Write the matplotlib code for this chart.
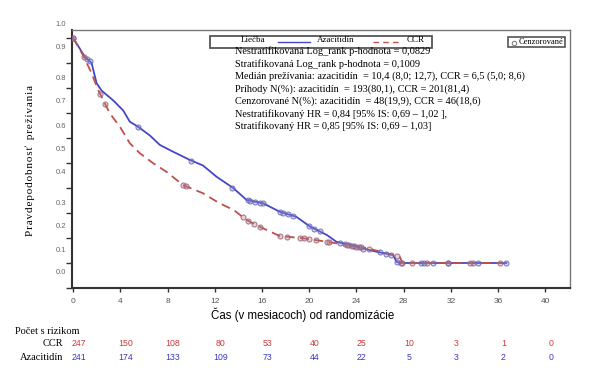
import numpy as np
import matplotlib
matplotlib.use("Agg")
import matplotlib.pyplot as plt
from matplotlib.patches import Rectangle
from matplotlib.lines import Line2D
import matplotlib.transforms as mtransforms

# ---- data ----
aza_t = [0, 0.99, 1.56, 1.98, 2.4, 3.4, 4.24, 4.8, 5.5, 6.5, 7.35, 8.47, 9.9, 11.0,
         12.15, 13.56, 14.7, 16.1, 17.5, 18.9, 20.1, 21.5, 22.3, 24.0, 25.7, 27.1,
         27.4, 27.7, 36.7]
aza_s = [1.0, 0.925, 0.90, 0.82, 0.79, 0.75, 0.71, 0.665, 0.645, 0.61, 0.572, 0.545,
         0.512, 0.49, 0.445, 0.40, 0.352, 0.339, 0.305, 0.285, 0.245, 0.212, 0.185,
         0.165, 0.145, 0.132, 0.105, 0.10, 0.10]
ccr_t = [0, 0.85, 1.56, 2.12, 2.54, 3.1, 3.96, 4.8, 5.65, 6.78, 7.9, 9.3, 11.0, 12.4,
         13.6, 14.7, 15.8, 17.5, 19.5, 21.5, 23.2, 24.9, 26.6, 27.7, 27.9, 36.2]
ccr_s = [1.0, 0.93, 0.859, 0.792, 0.752, 0.699, 0.645, 0.579, 0.539, 0.499, 0.465,
         0.412, 0.379, 0.339, 0.312, 0.272, 0.245, 0.208, 0.199, 0.185, 0.172, 0.159,
         0.139, 0.123, 0.10, 0.10]

aza_cens = [0.0, 1.2, 1.4, 5.5, 10.0, 13.5, 14.8, 15.0, 15.4, 15.8, 16.1, 17.5, 17.8,
            18.2, 18.6, 20.0, 20.4, 20.9, 22.6, 23.0, 23.4, 23.8, 24.2, 24.6, 26.0,
            26.5, 26.9, 27.4, 27.8, 29.5, 29.7, 30.5, 31.8, 33.9, 34.3, 36.7]
ccr_cens = [0.0, 0.9, 2.3, 2.7, 9.3, 9.6, 14.4, 14.8, 15.3, 15.8, 17.5, 18.1, 19.2,
            19.6, 20.0, 20.6, 21.5, 21.7, 23.2, 23.6, 24.0, 24.4, 25.1, 27.4, 27.9,
            28.7, 30.0, 31.8, 33.6, 36.2]

risk_times = [0, 4, 8, 12, 16, 20, 24, 28, 32, 36, 40]
risk_ccr = [247, 150, 108, 80, 53, 40, 25, 10, 3, 1, 0]
risk_aza = [241, 174, 133, 109, 73, 44, 22, 5, 3, 2, 0]

ytick_labels = ["1.0", "0.9", "0.8", "0.7", "0.6", "0.5", "0.4", "0.3", "0.2", "0.1", "0.0"]

stats_lines = [
    "Nestratifikovaná Log_rank p-hodnota = 0,0829",
    "Stratifikovaná Log_rank p-hodnota = 0,1009",
    "Medián prežívania: azacitidín  = 10,4 (8,0; 12,7), CCR = 6,5 (5,0; 8,6)",
    "Príhody N(%): azacitidín  = 193(80,1), CCR = 201(81,4)",
    "Cenzorované N(%): azacitidín  = 48(19,9), CCR = 46(18,6)",
    "Nestratifikovaný HR = 0,84 [95% IS: 0,69 – 1,02 ],",
    "Stratifikovaný HR = 0,85 [95% IS: 0,69 – 1,03]",
]

# ---- style ----
BLUE = "#4646c8"
RED = "#c0504d"
SERIF = ["Liberation Serif", "DejaVu Serif"]
SANS = ["Liberation Sans", "DejaVu Sans"]
W, H = 605, 384

fig = plt.figure(figsize=(W / 100, H / 100), dpi=100)
fig.patch.set_facecolor("white")
ax = fig.add_axes([72 / W, 1 - 288 / H, 498 / W, 258 / H])
ax.set_xlim(-0.1, 42.1)
ax.set_ylim(0, 1.032)

ax.plot(aza_t, aza_s, color=BLUE, lw=1.3, zorder=3)
ax.plot(ccr_t, ccr_s, color=RED, lw=1.3, ls=(0, (5, 3)), zorder=3)

ax.plot(aza_cens, np.interp(aza_cens, aza_t, aza_s), ls="none", marker="o", ms=3.6,
        mfc=(0.55, 0.55, 0.8, 0.35), mec=(0.4, 0.4, 0.72, 0.8), mew=0.8, zorder=4)
ax.plot(ccr_cens, np.interp(ccr_cens, ccr_t, ccr_s), ls="none", marker="o", ms=3.6,
        mfc=(0.75, 0.5, 0.55, 0.35), mec=(0.6, 0.38, 0.45, 0.8), mew=0.8, zorder=4)

# spines
for s in ["top", "right"]:
    ax.spines[s].set_color("#777777")
    ax.spines[s].set_linewidth(1.0)
for s in ["left", "bottom"]:
    ax.spines[s].set_color("#333333")
    ax.spines[s].set_linewidth(1.5)

# x ticks
ax.set_xticks(risk_times)
ax.set_xticklabels([str(t) for t in risk_times])
ax.tick_params(axis="x", direction="out", length=3, width=1, color="#333333",
               labelsize=6, labelcolor="#555555", pad=4)
for lab in ax.get_xticklabels():
    lab.set_family(SANS)

# y ticks: marks at 0.1 steps, labels drawn where they sit in the reference
ax.set_yticks(np.arange(0, 1.001, 0.1))
ax.set_yticklabels([])
ax.tick_params(axis="y", direction="out", length=4, width=1, color="#333333")
ylab_pos = [1.052, 0.962, 0.836, 0.746, 0.648, 0.554, 0.464, 0.338, 0.244, 0.150, 0.064]
ylab_tr = mtransforms.blended_transform_factory(fig.transFigure, ax.transData)
for lab, p in zip(ytick_labels, ylab_pos):
    fig.text(66 / W, p, lab, transform=ylab_tr, ha="right", va="center",
             fontsize=5.5, color="#666666", family=SANS)

# axis labels
ylabel = "\u200a".join("Pravdepodobnosť") + "  " + "\u200a".join("prežívania")
fig.text(30 / W, 1 - 161 / H, ylabel, rotation=90, ha="center", va="center",
         fontsize=8, family=SERIF)
fig.text(303 / W, 1 - 315 / H, "Čas (v mesiacoch) od randomizácie", ha="center",
         va="center", fontsize=8.3, family=SANS)

# legend box
fig.patches.append(Rectangle((210 / W, 1 - 47.5 / H), 222 / W, 12 / H,
                             transform=fig.transFigure, fill=False, ec="#555555",
                             lw=1.3))
fig.text(253 / W, 1 - 40.5 / H, "Liečba", ha="center", va="center", fontsize=6.5,
         family=SERIF)
fig.lines.append(Line2D([278 / W, 310 / W], [1 - 42 / H] * 2, transform=fig.transFigure,
                        color=BLUE, lw=1.0))
fig.text(336 / W, 1 - 40.5 / H, "Azacitidín", ha="center", va="center", fontsize=6.5,
         family=SERIF)
fig.lines.append(Line2D([373 / W, 400 / W], [1 - 42 / H] * 2, transform=fig.transFigure,
                        color=RED, lw=1.0, ls=(0, (4, 3))))
fig.text(416 / W, 1 - 40.5 / H, "CCR", ha="center", va="center", fontsize=6.5,
         family=SERIF)

fig.patches.append(Rectangle((508 / W, 1 - 47 / H), 57 / W, 10.5 / H,
                             transform=fig.transFigure, fill=False, ec="#555555",
                             lw=1.2))
fig.lines.append(Line2D([514 / W], [1 - 42.5 / H], transform=fig.transFigure,
                        marker="o", ms=3.2, mfc="none", mec="#808080", mew=0.8))
fig.text(519 / W, 1 - 41.5 / H, "Cenzorované", ha="left", va="center", fontsize=6,
         family=SERIF)

# statistics text
for i, line in enumerate(stats_lines):
    fig.text(235 / W, 1 - (51.5 + i * 12.5) / H, line, ha="left", va="center",
             fontsize=7.35, family=SERIF)

# number at risk table
fig.text(15 / W, 1 - 331 / H, "Počet s rizikom", ha="left", va="center", fontsize=7.5,
         family=SERIF)
fig.text(63 / W, 1 - 344 / H, "CCR", ha="right", va="center", fontsize=7.5,
         family=SERIF)
fig.text(63 / W, 1 - 357 / H, "Azacitidín", ha="right", va="center", fontsize=7.5,
         family=SERIF)
risk_tr = mtransforms.offset_copy(
    mtransforms.blended_transform_factory(ax.transData, fig.transFigure),
    fig=fig, x=5.5, y=0, units="dots")
for t, c, a in zip(risk_times, risk_ccr, risk_aza):
    fig.text(t, 1 - 344 / H, str(c), transform=risk_tr, ha="center", va="center",
             fontsize=6.3, color="#cc3a3a", family=SANS)
    fig.text(t, 1 - 357 / H, str(a), transform=risk_tr, ha="center", va="center",
             fontsize=6.3, color="#3a3ac0", family=SANS)

fig.savefig("out.png", dpi=100, facecolor="white")
